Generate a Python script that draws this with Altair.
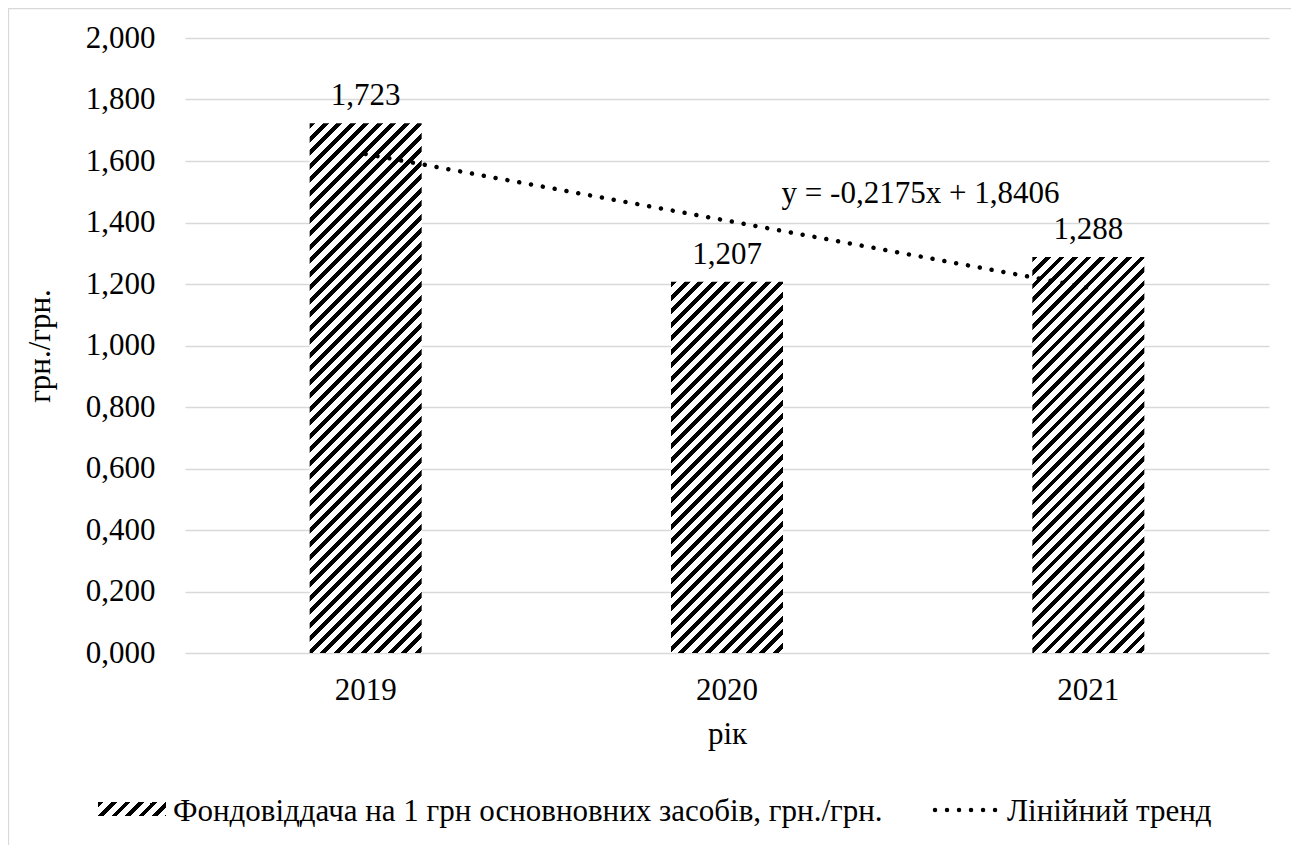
import altair as alt
import pandas as pd

years = ["2019", "2020", "2021"]
values = [1.723, 1.207, 1.288]
trend = [1.623, 1.406, 1.188]
y_ticks = [0.0, 0.2, 0.4, 0.6, 0.8, 1.0, 1.2, 1.4, 1.6, 1.8, 2.0]
series_name = "Фондовіддача на 1 грн основновних засобів, грн./грн."
trend_name = "Лінійний тренд"
equation = "y = -0,2175x + 1,8406"
y_title = "грн./грн."
x_title = "рік"

W, H = 1084, 615
BAR_W = 112
FONT = "Liberation Serif"
FS = 31
GRID = "#d9d9d9"
YMAX = 2.0


def hatch(w, h, period=13.5, frac=0.42):
    L = w + h
    k = L / (w * w + h * h)
    stops = []
    i = 0
    while i * period < L:
        a = i * period / L
        b = min((i * period + frac * period) / L, 1.0)
        c = min((i + 1) * period / L, 1.0)
        stops += [
            {"offset": a, "color": "black"},
            {"offset": b, "color": "black"},
            {"offset": b, "color": "white"},
            {"offset": c, "color": "white"},
        ]
        i += 1
    return {"gradient": "linear", "x1": 0, "y1": 0, "x2": w * k, "y2": h * k, "stops": stops}


df = pd.DataFrame({"year": years, "value": values, "trend": trend})
df["label"] = [f"{v:.3f}".replace(".", ",") for v in values]

xaxis = alt.Axis(
    title=x_title, labelAngle=0, ticks=False, tickSize=0, domain=False,
    labelPadding=22, labelFont=FONT, labelFontSize=FS, labelColor="black",
    titleFont=FONT, titleFontSize=FS, titleFontWeight="normal", titleColor="black",
    titlePadding=14,
)
yaxis = alt.Axis(
    title=y_title, values=y_ticks, ticks=False, tickSize=0, domain=False,
    labelExpr="replace(format(datum.value, '.3f'), '.', ',')",
    labelPadding=30, labelFont=FONT, labelFontSize=FS, labelColor="black",
    gridColor=GRID, gridWidth=1.3,
    titleFont=FONT, titleFontSize=FS, titleFontWeight="normal", titleColor="black",
    titleX=-145, titleY=H / 2, titleBaseline="middle", titleAngle=-90,
)
xscale = alt.Scale(paddingInner=0, paddingOuter=0)
yscale = alt.Scale(domain=[0, YMAX], nice=False)

X = alt.X("year:N", scale=xscale, axis=xaxis, sort=years)

layers = []
for yr, v in zip(years, values):
    h = v / YMAX * H
    layers.append(
        alt.Chart(df).transform_filter(alt.datum.year == yr)
        .mark_bar(size=BAR_W, fill=hatch(BAR_W, h))
        .encode(x=X, y=alt.Y("value:Q", scale=yscale, axis=yaxis))
    )

trend_layer = alt.Chart(df).mark_line(
    color="black", strokeWidth=4.5, strokeDash=[0.01, 12], strokeCap="round"
).encode(x=X, y=alt.Y("trend:Q", scale=yscale, axis=yaxis))

labels = alt.Chart(df).mark_text(
    font=FONT, fontSize=FS, color="black", baseline="alphabetic", dy=-18
).encode(x=X, y=alt.Y("value:Q", scale=yscale, axis=yaxis), text="label:N")

one = alt.Data(values=[{"a": 1}])

frame = alt.Chart(one).mark_rect(fillOpacity=0, stroke=GRID, strokeWidth=1.3).encode(
    x=alt.value(-176.5), x2=alt.value(1114), y=alt.value(-29.5), y2=alt.value(812)
)


def note(txt, year, yval, dx, align):
    return alt.Chart(alt.Data(values=[{"t": txt, "year": year, "value": yval}])).mark_text(
        font=FONT, fontSize=FS, color="black", baseline="alphabetic", align=align, dx=dx
    ).encode(x=X, y=alt.Y("value:Q", scale=yscale, axis=yaxis), text="t:N")


eq = note(equation, "2020", 1.4634, 193.5, "center")
leg_t1 = note(series_name, "2019", -0.5463, -192.7, "left")
leg_t2 = note(trend_name, "2021", -0.5463, -81.3, "left")

leg_sw1 = alt.Chart(one).mark_rect(fill=hatch(68, 14)).encode(
    x=alt.value(-87), x2=alt.value(-19), y=alt.value(764), y2=alt.value(778)
)
leg_sw2 = alt.Chart(one).mark_rule(
    color="black", strokeWidth=4.5, strokeDash=[0.01, 12], strokeCap="round"
).encode(x=alt.value(750), x2=alt.value(812), y=alt.value(772))

chart = alt.layer(
    frame, *layers, trend_layer, labels, eq, leg_sw1, leg_t1, leg_sw2, leg_t2
).properties(
    width=W, height=H, autosize="none",
    padding={"left": 177, "top": 30, "right": 22, "bottom": 200},
    background="white",
).configure_view(strokeWidth=0)

chart.save("out.html", embed_options={"renderer": "svg", "actions": False})
